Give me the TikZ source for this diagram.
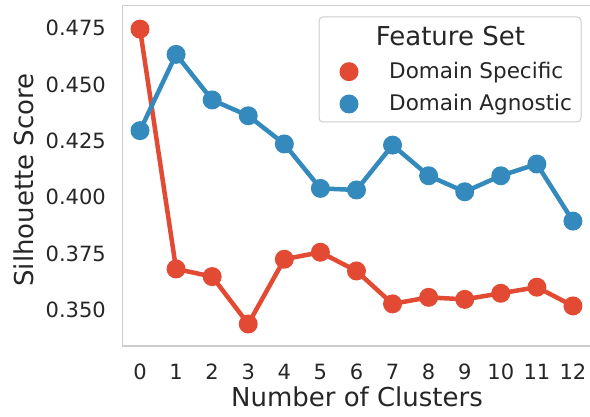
\documentclass[tikz,border=0pt]{standalone}
\usepackage{fontspec}
\setmainfont{DejaVu Sans}
\usetikzlibrary{arrows.meta, positioning}
\definecolor{dsred}{HTML}{E24A33}
\definecolor{dablue}{HTML}{348ABD}
\definecolor{spine}{HTML}{CCCCCC}
\definecolor{ink}{HTML}{262626}

\begin{document}
\begin{tikzpicture}[x=1pt, y=1pt, text=ink,
  tick/.style={inner sep=0pt, font=\fontsize{21}{25}\selectfont},
  axlabel/.style={inner sep=0pt, font=\fontsize{26}{31}\selectfont},
  entry/.style={inner sep=0pt, anchor=base west, font=\fontsize{21.5}{26}\selectfont},
  series/.style={line width=4.5pt, line join=round},
  dot/.style={circle, inner sep=0pt, minimum size=19pt, fill=#1}]

\useasboundingbox (0,0) rectangle (590,417);

% --- axes frame (right spine cut off) ---
\draw[spine, line width=1.5pt] (590,411.5) -- (122.3,411.5) -- (122.3,71) -- (590,71);

% --- tick labels ---
\foreach \v [count=\k] in {0.350,0.375,0.400,0.425,0.450,0.475}
  \node[tick, anchor=east] (yt\k) at (106, 2256*\v-682.6) {\v};
\foreach \i in {0,...,12}
  \node[tick, anchor=base] (xt\i) at (140+36.08*\i, 37.5) {\i};

\node[axlabel, anchor=base] (xlabel) at (357,10) {Number of Clusters};
\node[axlabel, anchor=base, rotate=90] (ylabel) at (33,237) {Silhouette Score};

% --- data points ---
\begin{scope}[shift={(140pt,-682.6pt)}, x=36.08pt, y=2256pt]
  \foreach \v [count=\k from 0] in {0.4745,0.3682,0.3648,0.3438,0.3725,0.3756,0.3673,0.3527,0.3556,0.3547,0.3574,0.3601,0.3518}
    \coordinate (r\k) at (\k,\v);
  \foreach \v [count=\k from 0] in {0.4295,0.4633,0.4431,0.4361,0.4236,0.4039,0.4032,0.4231,0.4095,0.4024,0.4095,0.4147,0.3894}
    \coordinate (b\k) at (\k,\v);
\end{scope}

\draw[series, dsred] (r0) \foreach \k in {1,...,12} { -- (r\k) };
\draw[series, dablue] (b0) \foreach \k in {1,...,12} { -- (b\k) };
\foreach \k in {0,...,12} {
  \node[dot=dsred] (rd\k) at (r\k) {};
  \node[dot=dablue] (bd\k) at (b\k) {};
}

% --- legend ---
\node[draw=spine, line width=1pt, rounded corners=4pt, fill=white, minimum width=262pt, minimum height=105pt] (legend) at (450,347.5) {};
\node[axlabel, anchor=base] (legtitle) at (450.4,371.3) {Feature Set};
\node[dot=dsred] (legred) at (349,345.3) {};
\node[dot=dablue] (legblue) at (349,313) {};
\node[entry] (legds) at (389,338.7) {Domain Specific};
\node[entry] (legda) at (389,306.3) {Domain Agnostic};

\end{tikzpicture}
\end{document}
